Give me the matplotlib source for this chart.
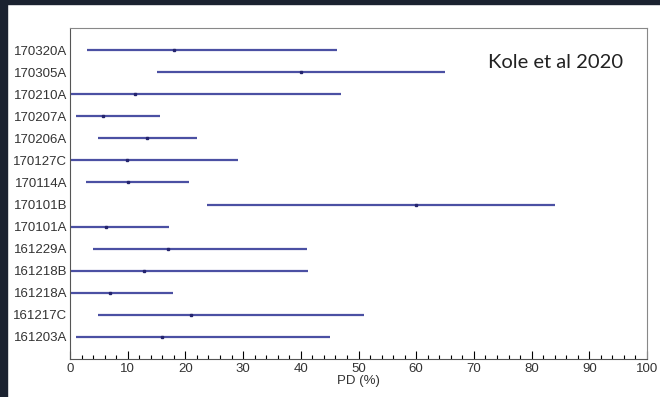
import matplotlib.pyplot as plt
from matplotlib.patches import Rectangle

grbs = ["170320A", "170305A", "170210A", "170207A", "170206A", "170127C", "170114A",
        "170101B", "170101A", "161229A", "161218B", "161218A", "161217C", "161203A"]
pd_low = [3, 15, 0, 1, 4.8, 0, 2.7, 23.8, 0, 3.9, 0, 0, 4.8, 1]
pd_best = [18, 40, 11.3, 5.8, 13.4, 9.8, 10, 60, 6.2, 16.9, 12.9, 7, 20.9, 15.9]
pd_high = [46.2, 65, 47, 15.6, 22, 29.2, 20.6, 84, 17.1, 41.1, 41.2, 17.8, 51, 45]

linecol = "#4b50a3"
dotcol = "#24246e"

fig = plt.figure(figsize=(6.6, 3.97), dpi=100)
# dark frame strips of the screenshot
fig.patches.append(Rectangle((0, 1 - 4/397), 1, 4/397, transform=fig.transFigure,
                             color="#1b2230", zorder=0))
fig.patches.append(Rectangle((0, 0), 7/660, 1, transform=fig.transFigure,
                             color="#1b2230", zorder=0))

ax = fig.add_axes([70/660, 1 - 359/397, 577/660, 331/397])
n = len(grbs)
ypos = [n - i for i in range(n)]
ax.hlines(ypos, pd_low, pd_high, color=linecol, lw=1.6)
ax.plot(pd_best, ypos, "s", ms=2, color=dotcol, ls="none")

ax.set_xlim(0, 100)
ax.set_ylim(0, n + 1)
ax.set_xticks(range(0, 101, 10))
ax.set_xticks(range(0, 101, 2), minor=True)
ax.set_yticks(ypos)
ax.set_yticklabels(grbs)
ax.tick_params(axis="x", which="major", direction="in", length=6, width=0.8,
               labelsize=9.5, pad=3)
ax.tick_params(axis="x", which="minor", direction="in", length=3, width=0.8)
ax.tick_params(axis="y", length=0, labelsize=9.5, pad=2)
for lab in ax.get_xticklabels() + ax.get_yticklabels():
    lab.set_family("Liberation Sans")
    lab.set_color("#333333")
ax.set_xlabel("PD (%)", family="Liberation Sans", fontsize=9.5, color="#333333", labelpad=0)

for s in ["top", "right"]:
    ax.spines[s].set_color("#888888")
for s in ["left", "bottom"]:
    ax.spines[s].set_color("#555555")

ax.text(0.958, 0.897, "Kole et al 2020", transform=ax.transAxes, ha="right", va="center",
        family="Lato", fontsize=14.5, color="#222222")

fig.savefig("out.png", dpi=100)
